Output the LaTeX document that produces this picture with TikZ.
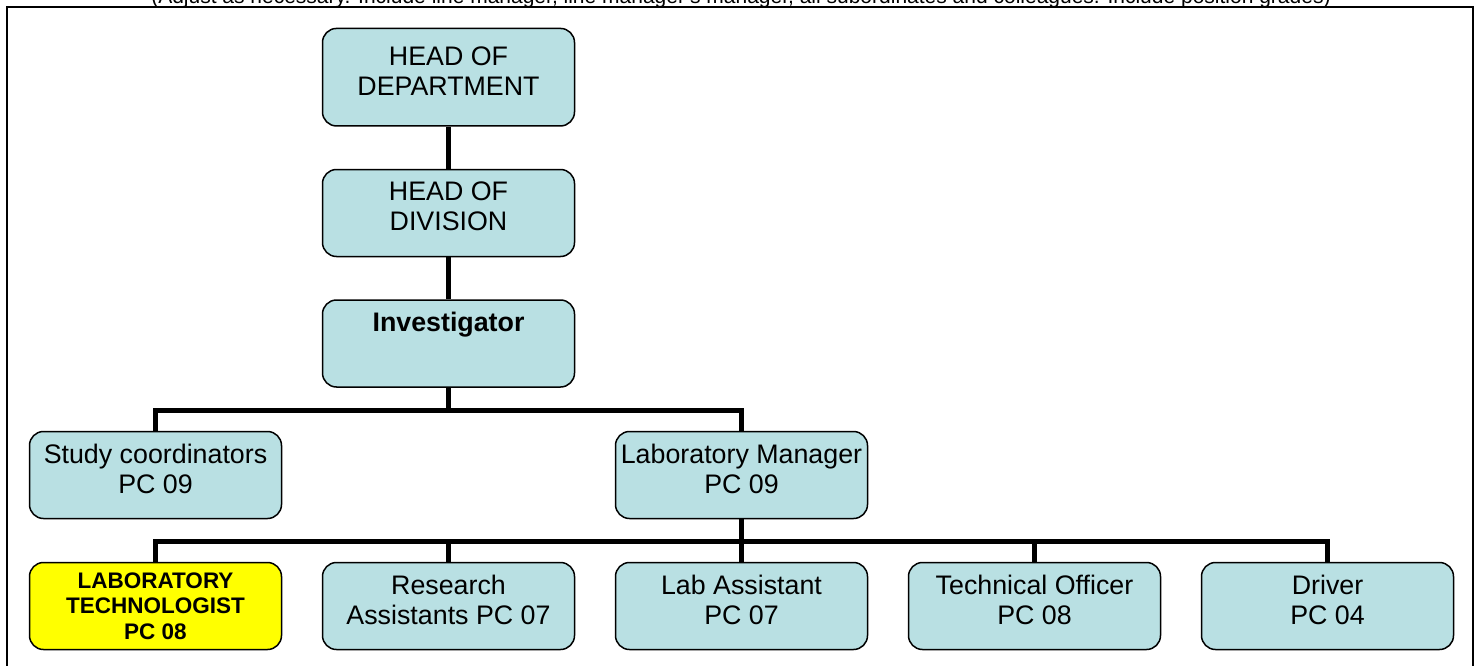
\documentclass[tikz,border=0pt]{standalone}
\usepackage{fontspec}
\setmainfont{Liberation Sans}
\definecolor{boxblue}{RGB}{185,224,227}
\definecolor{boxyellow}{RGB}{255,255,0}
\begin{document}
\begin{tikzpicture}[x=1pt,y=-1pt,
  boxshape/.style={draw=black, line width=1.5pt, rounded corners=14pt,
    minimum width=252pt, minimum height=87pt, inner sep=0pt},
  boxtext/.style={align=center, inner sep=0pt, yshift=6.5pt,
    font=\fontsize{26.8}{30}\selectfont},
  techtext/.style={align=center, inner sep=0pt,
    font=\fontsize{22.5}{25.5}\selectfont\bfseries},
  box/.style={boxshape, fill=boxblue, label={[boxtext]center:#1}},
  techbox/.style={boxshape, fill=boxyellow, label={[techtext]center:#1}},
  conn/.style={draw=black, line width=5pt, line join=miter},
  frame/.style={draw=black, line width=2pt}]
\useasboundingbox (0,0) rectangle (1480,666);
\clip (0,0) rectangle (1480,666);
\node[font=\fontsize{21}{24}\selectfont, anchor=base, inner sep=0pt] (cap) at (741,4)
  {(Adjust as necessary. Include line manager, line manager's manager, all subordinates and colleagues. Include position grades)};
\draw[frame] (7,700) -- (7,7) -- (1473,7) -- (1473,700);
% nodes
\node[box={HEAD OF\\DEPARTMENT}, minimum height=97.5pt] (hod) at (448.5,77.2) {};
\node[box={HEAD OF\\DIVISION}] (hdiv) at (448.5,213) {};
\node[box={\textbf{Investigator}\\~}] (inv) at (448.5,343.5) {};
\node[box={Study coordinators\\PC 09}] (sc) at (155.5,475) {};
\node[box={Laboratory Manager\\PC 09}] (lm) at (741.5,475) {};
\node[techbox={LABORATORY\\TECHNOLOGIST\\PC 08}] (lt) at (155.5,606) {};
\node[box={Research\\Assistants PC 07}] (ra) at (448.5,606) {};
\node[box={Lab Assistant\\PC 07}] (la) at (741.5,606) {};
\node[box={Technical Officer\\PC 08}] (to) at (1034.5,606) {};
\node[box={Driver\\PC 04}] (drv) at (1327.5,606) {};
% connectors
\draw[conn] (hod.south) -- (hdiv.north);
\draw[conn] (hdiv.south) -- (inv.north);
\path (inv.south) ++(0,22.5) coordinate (b1);
\draw[conn] (inv.south) -- (b1);
\draw[conn] (sc.north) |- (b1) -| (lm.north);
\draw[conn] (lm.south) -- (la.north);
\path (lm.south) ++(0,22.5) coordinate (b2);
\draw[conn] (lt.north) |- (b2) -| (drv.north);
\draw[conn] (ra.north) -- (ra.north |- b2);
\draw[conn] (to.north) -- (to.north |- b2);
\end{tikzpicture}
\end{document}
